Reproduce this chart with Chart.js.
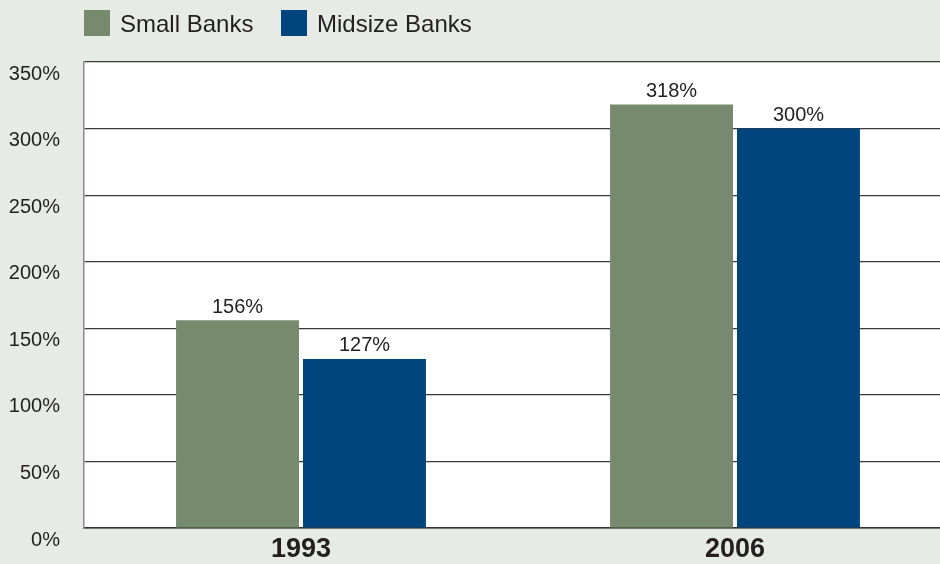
<!DOCTYPE html>
<html>
<head>
<meta charset="utf-8">
<script src="https://cdn.jsdelivr.net/npm/chart.js@4/dist/chart.umd.min.js"></script>
<style>
  html, body { margin: 0; padding: 0; background: #e6ebe5; overflow: hidden; }
  #wrap { width: 960px; height: 564px; }
</style>
</head>
<body>
<div id="wrap"><canvas id="chart" width="960" height="564"></canvas></div>
<script>
const years = ["1993", "2006"];
const smallBanks = [156, 318];
const midsizeBanks = [127, 300];
const seriesNames = ["Small Banks", "Midsize Banks"];
const yTicks = [0, 50, 100, 150, 200, 250, 300, 350];

const sans = "'Liberation Sans', Arial, sans-serif";
const legendX = [84, 281];

// white plot background
const plotBg = {
  id: "plotBg",
  beforeDraw(chart) {
    const { ctx, chartArea: a } = chart;
    ctx.save();
    ctx.fillStyle = "#ffffff";
    ctx.fillRect(a.left, a.top, a.right - a.left, a.bottom - a.top);
    ctx.restore();
  }
};

// legend at top left, squares + names
const topLegend = {
  id: "topLegend",
  afterDraw(chart) {
    const ctx = chart.ctx;
    ctx.save();
    ctx.font = "24px " + sans;
    ctx.textBaseline = "middle";
    chart.data.datasets.forEach((ds, i) => {
      ctx.fillStyle = ds.backgroundColor;
      ctx.fillRect(legendX[i], 10, 26, 26);
      ctx.fillStyle = "#231f20";
      ctx.fillText(ds.label, legendX[i] + 36, 25);
    });
    ctx.restore();
  }
};

// value labels over the bars
const barLabels = {
  id: "barLabels",
  afterDatasetsDraw(chart) {
    const ctx = chart.ctx;
    ctx.save();
    ctx.font = "20px " + sans;
    ctx.fillStyle = "#231f20";
    ctx.textAlign = "center";
    ctx.textBaseline = "bottom";
    chart.data.datasets.forEach((ds, i) => {
      chart.getDatasetMeta(i).data.forEach((bar, j) => {
        ctx.fillText(ds.data[j] + "%", bar.x, bar.y - 3);
      });
    });
    ctx.restore();
  }
};

new Chart(document.getElementById("chart"), {
  type: "bar",
  data: {
    labels: years,
    datasets: [
      { label: seriesNames[0], data: smallBanks, backgroundColor: "#768a6d" },
      { label: seriesNames[1], data: midsizeBanks, backgroundColor: "#00457e" }
    ]
  },
  options: {
    responsive: false,
    animation: false,
    layout: { padding: { top: 62, right: 8, left: 0, bottom: 0 } },
    datasets: {
      bar: { categoryPercentage: 0.585, barPercentage: 0.9685 }
    },
    scales: {
      x: {
        afterFit(scale) { scale.height = 36; },
        grid: { display: false, drawTicks: false },
        border: { display: true, color: "#333333", width: 1.5 },
        ticks: {
          color: "#231f20",
          padding: 8,
          font: { family: sans, size: 27, weight: "bold", lineHeight: 1 }
        }
      },
      y: {
        min: 0,
        max: 350,
        afterFit(scale) { scale.width = 84; },
        afterBuildTicks(scale) { scale.ticks = yTicks.map(v => ({ value: v })); },
        grid: { color: "#3a3a3a", lineWidth: 1.2, drawTicks: false },
        border: { display: true, color: "#8a8a8a", width: 1.5 },
        ticks: {
          color: "#231f20",
          padding: 24,
          labelOffset: 12,
          font: { family: sans, size: 20 },
          callback: v => v + "%"
        }
      }
    },
    plugins: {
      tooltip: { enabled: false },
      legend: { display: false }
    }
  },
  plugins: [plotBg, topLegend, barLabels]
});
</script>
</body>
</html>
